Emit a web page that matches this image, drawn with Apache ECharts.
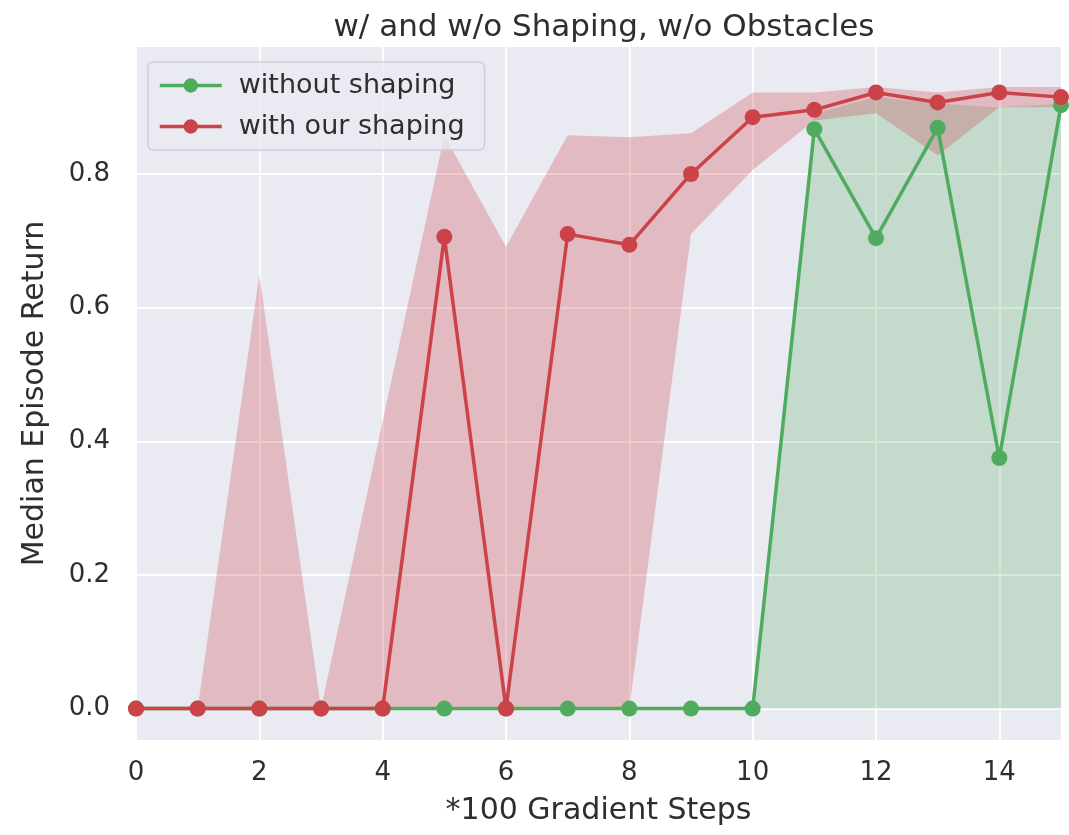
<!DOCTYPE html>
<html>
<head>
<meta charset="utf-8">
<script src="https://cdn.jsdelivr.net/npm/echarts@6/dist/echarts.min.js"></script>
<style>
html,body{margin:0;padding:0;background:#ffffff;}
#chart{width:1069px;height:835px;}
</style>
</head>
<body>
<div id="chart"></div>
<script>
// ---- data ----
var steps = [0,1,2,3,4,5,6,7,8,9,10,11,12,13,14,15];
var withoutShaping = [0,0,0,0,0,0,0,0,0,0,0,0.867,0.704,0.869,0.375,0.903];
var withoutLower   = [0,0,0,0,0,0,0,0,0,0,0,0,0,0,0,0];
var withoutUpper   = [0,0,0,0,0,0,0,0,0,0,0,0.890,0.915,0.905,0.900,0.905];
var withShaping = [0,0,0,0,0,0.706,0,0.710,0.694,0.800,0.885,0.896,0.922,0.907,0.922,0.915];
var withLower   = [0,0,0,0,0,0,0,0,0,0.710,0.806,0.880,0.891,0.828,0.900,0.900];
var withUpper   = [0,0,0.649,0,0.430,0.858,0.691,0.858,0.855,0.861,0.922,0.922,0.930,0.922,0.930,0.930];
var xTicks = [0,2,4,6,8,10,12,14];
var yTicks = [0,0.2,0.4,0.6,0.8];
var seriesNames = ['without shaping','with our shaping'];
var titleText = 'w/ and w/o Shaping, w/o Obstacles';
var xName = '*100 Gradient Steps';
var yName = 'Median Episode Return';

var GREEN = '#4fab5e';
var RED = '#cc4249';

function pairs(xs, ys){ return xs.map(function(x,i){ return [x, ys[i]]; }); }
function bandData(xs, lo, hi){ return xs.map(function(x,i){ return [x, lo[i], hi[i]]; }); }

function bandSeries(data, color, opacity){
  return {
    type: 'custom',
    data: data,
    silent: true,
    z: 1,
    encode: {x: 0, y: [1,2]},
    renderItem: function(params, api){
      if (params.dataIndex !== 0) return null;
      var pts = [];
      var i;
      for (i = 0; i < data.length; i++) pts.push(api.coord([data[i][0], data[i][2]]));
      for (i = data.length - 1; i >= 0; i--) pts.push(api.coord([data[i][0], data[i][1]]));
      return {
        type: 'polygon',
        shape: {points: pts},
        style: {fill: color, opacity: opacity}
      };
    }
  };
}

var chart = echarts.init(document.getElementById('chart'), null, {renderer: 'canvas'});
var FONT = 'DejaVu Sans';
var TXT = '#2e2e2e';
chart.setOption({
  animation: false,
  backgroundColor: '#ffffff',
  title: {
    text: titleText,
    left: 599,
    textAlign: 'center',
    top: 7,
    textStyle: {fontFamily: FONT, fontSize: 31, fontWeight: 'normal', color: TXT}
  },
  grid: {left: 136, right: 8, top: 47, bottom: 95, show: true, backgroundColor: '#eaeaf2', borderWidth: 0},
  legend: {
    data: seriesNames,
    left: 148, top: 62,
    orient: 'vertical',
    itemWidth: 62, itemHeight: 18, itemGap: 14,
    padding: [10, 20, 10, 10],
    backgroundColor: 'rgba(234,234,242,0.8)',
    borderColor: 'rgba(204,204,212,0.9)',
    borderWidth: 1.5,
    borderRadius: 5,
    lineStyle: {width: 3.5},
    textStyle: {fontFamily: FONT, fontSize: 27, color: TXT, padding: [0,0,0,12]}
  },
  xAxis: {
    type: 'value', min: 0, max: 15,
    name: xName, nameLocation: 'middle', nameGap: 56,
    nameTextStyle: {fontFamily: FONT, fontSize: 30, color: TXT},
    axisLine: {show: false},
    axisTick: {show: false, customValues: xTicks},
    axisLabel: {customValues: xTicks, margin: 20, fontFamily: FONT, fontSize: 26, color: TXT},
    splitLine: {show: true, lineStyle: {color: '#ffffff', width: 1.8}}
  },
  yAxis: {
    type: 'value', min: -0.047, max: 0.99,
    name: yName, nameLocation: 'middle', nameGap: 86,
    nameTextStyle: {fontFamily: FONT, fontSize: 30, color: TXT},
    axisLine: {show: false},
    axisTick: {show: false, customValues: yTicks},
    axisLabel: {customValues: yTicks, margin: 26, fontFamily: FONT, fontSize: 26, color: TXT,
      formatter: function(v){ return Number(v).toFixed(1); }},
    splitLine: {show: true, lineStyle: {color: '#ffffff', width: 1.8}}
  },
  series: [
    bandSeries(bandData(steps, withoutLower, withoutUpper), GREEN, 0.25),
    bandSeries(bandData(steps, withLower, withUpper), RED, 0.28),
    {
      name: seriesNames[0], type: 'line', data: pairs(steps, withoutShaping), z: 3,
      symbol: 'circle', symbolSize: 16, showSymbol: true,
      lineStyle: {color: GREEN, width: 3.5}, itemStyle: {color: GREEN}
    },
    {
      name: seriesNames[1], type: 'line', data: pairs(steps, withShaping), z: 4,
      symbol: 'circle', symbolSize: 16, showSymbol: true,
      lineStyle: {color: RED, width: 3.5}, itemStyle: {color: RED}
    }
  ]
});
</script>
</body>
</html>
